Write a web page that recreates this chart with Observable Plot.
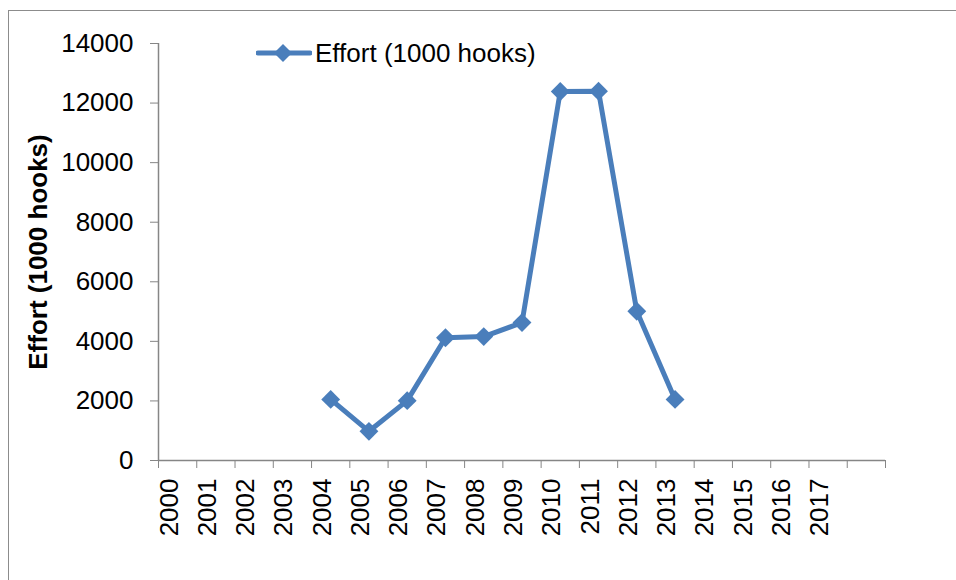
<!DOCTYPE html>
<html>
<head>
<meta charset="utf-8">
<script src="https://cdn.jsdelivr.net/npm/d3@7"></script>
<script src="https://cdn.jsdelivr.net/npm/@observablehq/plot@0.6"></script>
<style>
  html, body { margin: 0; padding: 0; background: #fff; overflow: hidden; }
  #wrap { position: relative; width: 956px; height: 580px; overflow: hidden; font-family: "Liberation Sans", Arial, sans-serif; }
  #frame { position: absolute; left: 8px; top: 10px; width: 1000px; height: 1000px; border: 1.5px solid #8c8c8c; box-sizing: border-box; }
  #chart { position: absolute; left: 0; top: 0; }
  #legend { position: absolute; left: 256px; top: 40px; height: 26px; display: flex; align-items: center; gap: 3px; font-size: 26px; line-height: 26px; color: #000; }
</style>
</head>
<body>
<div id="wrap">
  <div id="frame"></div>
  <div id="chart"></div>
  <div id="legend"></div>
</div>
<script>
// ---- data ----
const seriesName = "Effort (1000 hooks)";
const years = [2004, 2005, 2006, 2007, 2008, 2009, 2010, 2011, 2012, 2013];
const effort = [2050, 980, 2010, 4120, 4160, 4630, 12390, 12400, 5010, 2050];
const xLabels = ["2000","2001","2002","2003","2004","2005","2006","2007","2008","2009","2010","2011","2012","2013","2014","2015","2016","2017"];
const yTicks = [0, 2000, 4000, 6000, 8000, 10000, 12000, 14000];
const yTitle = "Effort (1000 hooks)";

const lineColor = "#4a7ebb";
const axisColor = "#868686";

const rows = years.map((y, i) => ({year: y, value: effort[i]}));
// category boundaries (19 slots: 2000..2017 plus one empty slot)
const boundaries = d3.range(20).map(i => 1999.5 + i);

const chart = Plot.plot({
  width: 956,
  height: 580,
  marginLeft: 158,
  marginRight: 71,
  marginTop: 43,
  marginBottom: 120,
  style: {fontFamily: "Liberation Sans, Arial, sans-serif", fontSize: "26px", color: "#000", background: "transparent", overflow: "visible"},
  x: {type: "linear", domain: [1999.5, 2018.5]},
  y: {domain: [0, 14000]},
  marks: [
    // y axis
    Plot.axisY({ticks: yTicks, tickSize: 8, tickPadding: 17, tickFormat: d => String(d), stroke: axisColor, fill: "#000", label: null}),
    Plot.ruleX([1999.5], {stroke: axisColor, strokeWidth: 1.5}),
    // x axis ticks at category boundaries
    Plot.axisX({ticks: boundaries, tickSize: 8, tickFormat: () => "", stroke: axisColor, label: null}),
    Plot.ruleY([0], {stroke: axisColor, strokeWidth: 1.5, x1: 1999.5, x2: 2018.5}),
    // x tick labels (rotated)
    Plot.text(xLabels, {x: d => +d, frameAnchor: "bottom", text: d => d, rotate: -90, textAnchor: "end", dy: 18, fill: "#000"}),
    // y axis title
    Plot.text([yTitle], {frameAnchor: "left", rotate: -90, textAnchor: "middle", dx: -120, fontWeight: "bold", fill: "#000"}),
    // series
    Plot.line(rows, {x: "year", y: "value", stroke: lineColor, strokeWidth: 5, strokeLinejoin: "round"}),
    Plot.dot(rows, {x: "year", y: "value", symbol: "diamond2", r: 8.5, fill: lineColor, stroke: "none"})
  ]
});
document.getElementById("chart").appendChild(chart);

// legend
const legend = document.getElementById("legend");
legend.innerHTML = `<svg width="56" height="26" style="display:block"><line x1="2" x2="54" y1="13" y2="13" stroke="${lineColor}" stroke-width="5" stroke-linecap="round"/><path d="M27,4 L36,13 L27,22 L18,13 Z" fill="${lineColor}"/></svg><span>${seriesName}</span>`;
</script>
</body>
</html>
